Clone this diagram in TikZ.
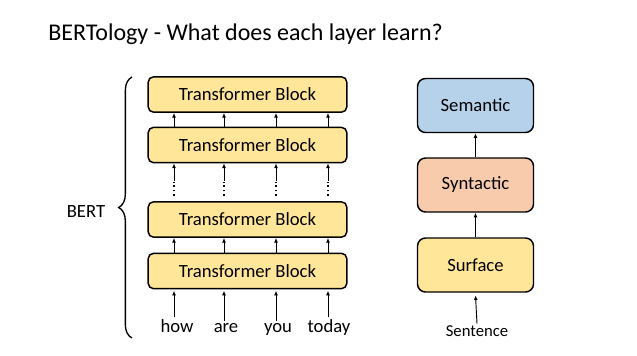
\documentclass[tikz,border=0pt]{standalone}
\usepackage{fontspec}
\setmainfont{Carlito}
\usetikzlibrary{arrows.meta,decorations.pathreplacing}

\definecolor{blockyellow}{HTML}{FFE699}
\definecolor{synpeach}{HTML}{F8CBAD}
\definecolor{semblue}{HTML}{B5D2EA}

\begin{document}
\begin{tikzpicture}[
        x=0.75pt, y=-0.75pt,
        every node/.style={font=\fontsize{14}{16}\selectfont},
        block/.style={draw, line width=1.1pt, rounded corners=4pt, fill=blockyellow,
            minimum width=149pt, minimum height=26.5pt, inner sep=0pt},
        level/.style={draw, line width=1.1pt, rounded corners=6pt,
            minimum width=87pt, minimum height=40.5pt, inner sep=0pt},
        word/.style={anchor=base, inner sep=1pt},
        flow/.style={-{Latex[length=3.5pt,width=3pt]}, line width=0.7pt},
        gap/.style={dotted, line width=1.3pt}
    ]

    \useasboundingbox (0,0) rectangle (637,355);

    % Title
    \node[anchor=base west, inner sep=0pt, font=\fontsize{18}{21}\selectfont]
        (title) at (48,40) {BERTology - What does each layer learn?};

    % Stack of transformer blocks
    \node[block] (b1) at (247.5,94.5) {Transformer Block};
    \node[block] (b2) at (247.5,145) {Transformer Block};
    \node[block] (b3) at (247.5,219.5) {Transformer Block};
    \node[block] (b4) at (247.5,271) {Transformer Block};

    % Input words
    \node[word] (w1) at (177,332) {how};
    \node[word] (w2) at (226,332) {are};
    \node[word] (w3) at (278,332) {you};
    \node[word] (w4) at (329,332) {today};

    % Arrows through the stack
    \foreach \c/\x in {1/174,2/224,3/276,4/328} {
        \coordinate (c\c) at (\x,0);
        \draw[flow] (w\c.north -| c\c) -- ([yshift=-1pt]b4.south -| c\c);
        \draw[flow] (b4.north -| c\c) -- (b3.south -| c\c);
        \draw[gap] ([yshift=4pt]b3.north -| c\c) -- ([yshift=14pt]b3.north -| c\c);
        \draw[flow] ([yshift=15pt]b3.north -| c\c) -- (b2.south -| c\c);
        \draw[flow] (b2.north -| c\c) -- (b1.south -| c\c);
    }

    % Brace for BERT
    \coordinate (braceBot) at (132,338);
    \coordinate (braceTop) at (132,77);
    \draw[line width=1pt, decorate, decoration={brace, amplitude=10pt}]
        (braceBot) -- (braceTop);
    \node[anchor=base, inner sep=0pt] (bert) at (86,217) {BERT};

    % What each layer learns
    \node[level, fill=semblue] (sem) at (475.5,105.5) {Semantic};
    \node[level, fill=synpeach] (syn) at (475.5,185) {Syntactic};
    \node[level, fill=blockyellow] (surf) at (475.5,265) {Surface};
    \node[word, font=\fontsize{12.5}{14}\selectfont] (sent) at (477,336) {Sentence};

    \draw[flow] (sent.north) -- ([yshift=-2pt]surf.south);
    \draw[flow] (surf.north) -- (syn.south);
    \draw[flow] (syn.north) -- (sem.south);

\end{tikzpicture}
\end{document}
